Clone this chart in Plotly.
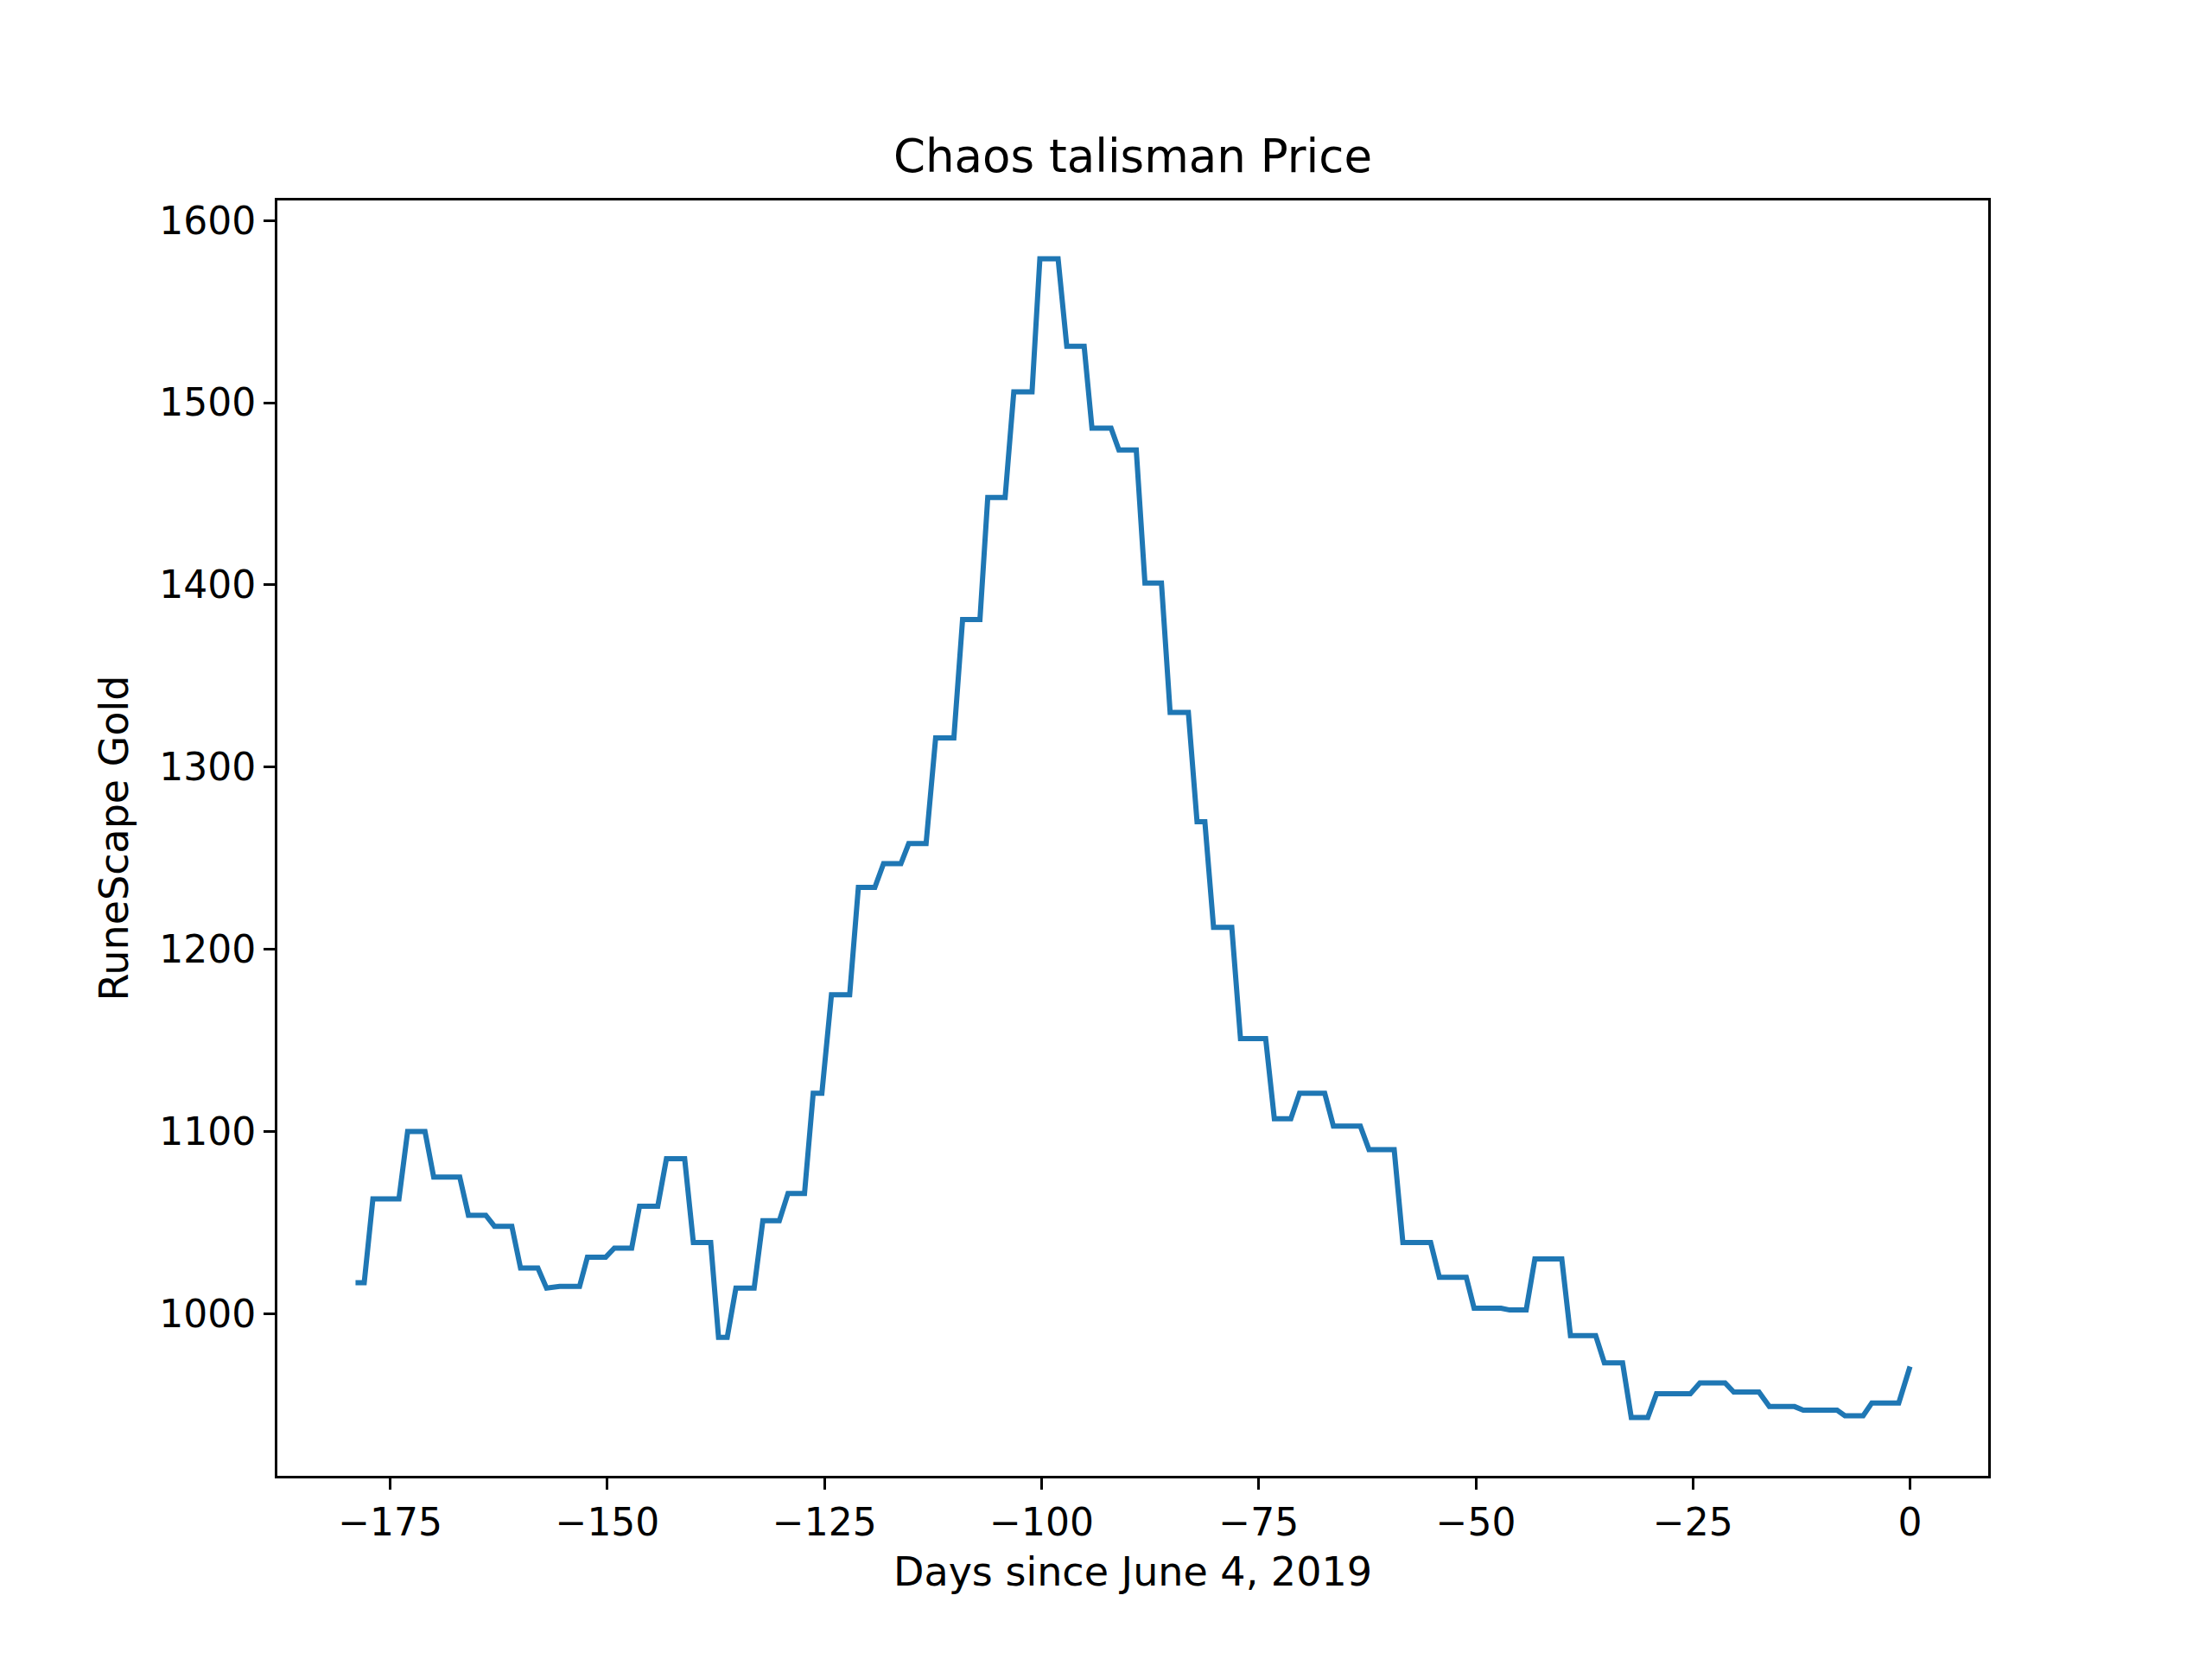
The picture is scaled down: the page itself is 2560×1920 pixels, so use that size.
import plotly.graph_objects as go

days = [-179,-178,-177,-174,-173,-171,-170,-167,-166,-164,-163,-161,-160,-158,-157,-155.5,-153.2,-152.3,-150.2,-149.2,-147.2,-146.3,-144.2,-143.2,-141.1,-140.1,-138.1,-137.2,-136.2,-135.2,-133.1,-132.1,-130.2,-129.2,-127.3,-126.3,-125.3,-124.2,-122.1,-121.1,-119.2,-118.2,-116.2,-115.3,-113.3,-112.2,-110.1,-109.1,-107.1,-106.2,-104.2,-103.2,-101.1,-100.2,-98.1,-97.1,-95.1,-94.2,-92.0,-91.1,-89.1,-88.1,-86.2,-85.2,-83.1,-82.1,-81.2,-80.2,-78.1,-77.1,-74.2,-73.2,-71.3,-70.3,-67.4,-66.4,-63.3,-62.3,-59.4,-58.4,-55.2,-54.2,-51.1,-50.2,-47.1,-46.1,-44.2,-43.2,-40.1,-39.1,-36.2,-35.2,-33.1,-32.1,-30.2,-29.2,-25.3,-24.2,-21.3,-20.3,-17.4,-16.2,-13.3,-12.3,-8.4,-7.5,-5.4,-4.4,-1.3,0]
price = [1017,1017,1063,1063,1100,1100,1075,1075,1054,1054,1048,1048,1025,1025,1014,1015,1015,1031,1031,1036,1036,1059,1059,1085,1085,1039,1039,987,987,1014,1014,1051,1051,1066,1066,1121,1121,1175,1175,1234,1234,1247,1247,1258,1258,1316,1316,1381,1381,1448,1448,1506,1506,1579,1579,1531,1531,1486,1486,1474,1474,1401,1401,1330,1330,1270,1270,1212,1212,1151,1151,1107,1107,1121,1121,1103,1103,1090,1090,1039,1039,1020,1020,1003,1003,1002,1002,1030,1030,988,988,973,973,943,943,956,956,962,962,957,957,949,949,947,947,944,944,951,951,971]

x_ticks = [-175,-150,-125,-100,-75,-50,-25,0]
y_ticks = [1000,1100,1200,1300,1400,1500,1600]

fig = go.Figure(go.Scatter(x=days, y=price, mode="lines",
                           line=dict(color="#1f77b4", width=6)))
font = "DejaVu Sans"
ax = dict(showgrid=False, zeroline=False, showline=True, mirror=True,
          linecolor="black", linewidth=3, ticks="outside", ticklen=13,
          tickwidth=3, tickcolor="black", tickfont=dict(size=44, color="black"))
fig.update_layout(
    width=2560, height=1920, plot_bgcolor="white", paper_bgcolor="white",
    margin=dict(l=313, r=267, t=224, b=220),
    font=dict(family=font, color="black"),
    title=dict(text="Chaos talisman Price", x=(313 + (2560 - 267)) / 2 / 2560, xanchor="center",
               y=1-172/1920, yanchor="middle", font=dict(size=53)),
    showlegend=False,
)
fig.update_xaxes(**ax, range=[-188, 9], tickvals=x_ticks,
                 ticktext=["\u2212175","\u2212150","\u2212125","\u2212100","\u221275","\u221250","\u221225","0"],
                 title=dict(text="Days since June 4, 2019", font=dict(size=46), standoff=18))
fig.update_yaxes(**ax, range=[911, 1611], tickvals=y_ticks,
                 title=dict(text="RuneScape Gold", font=dict(size=46), standoff=22))
fig.write_html("out.html")
